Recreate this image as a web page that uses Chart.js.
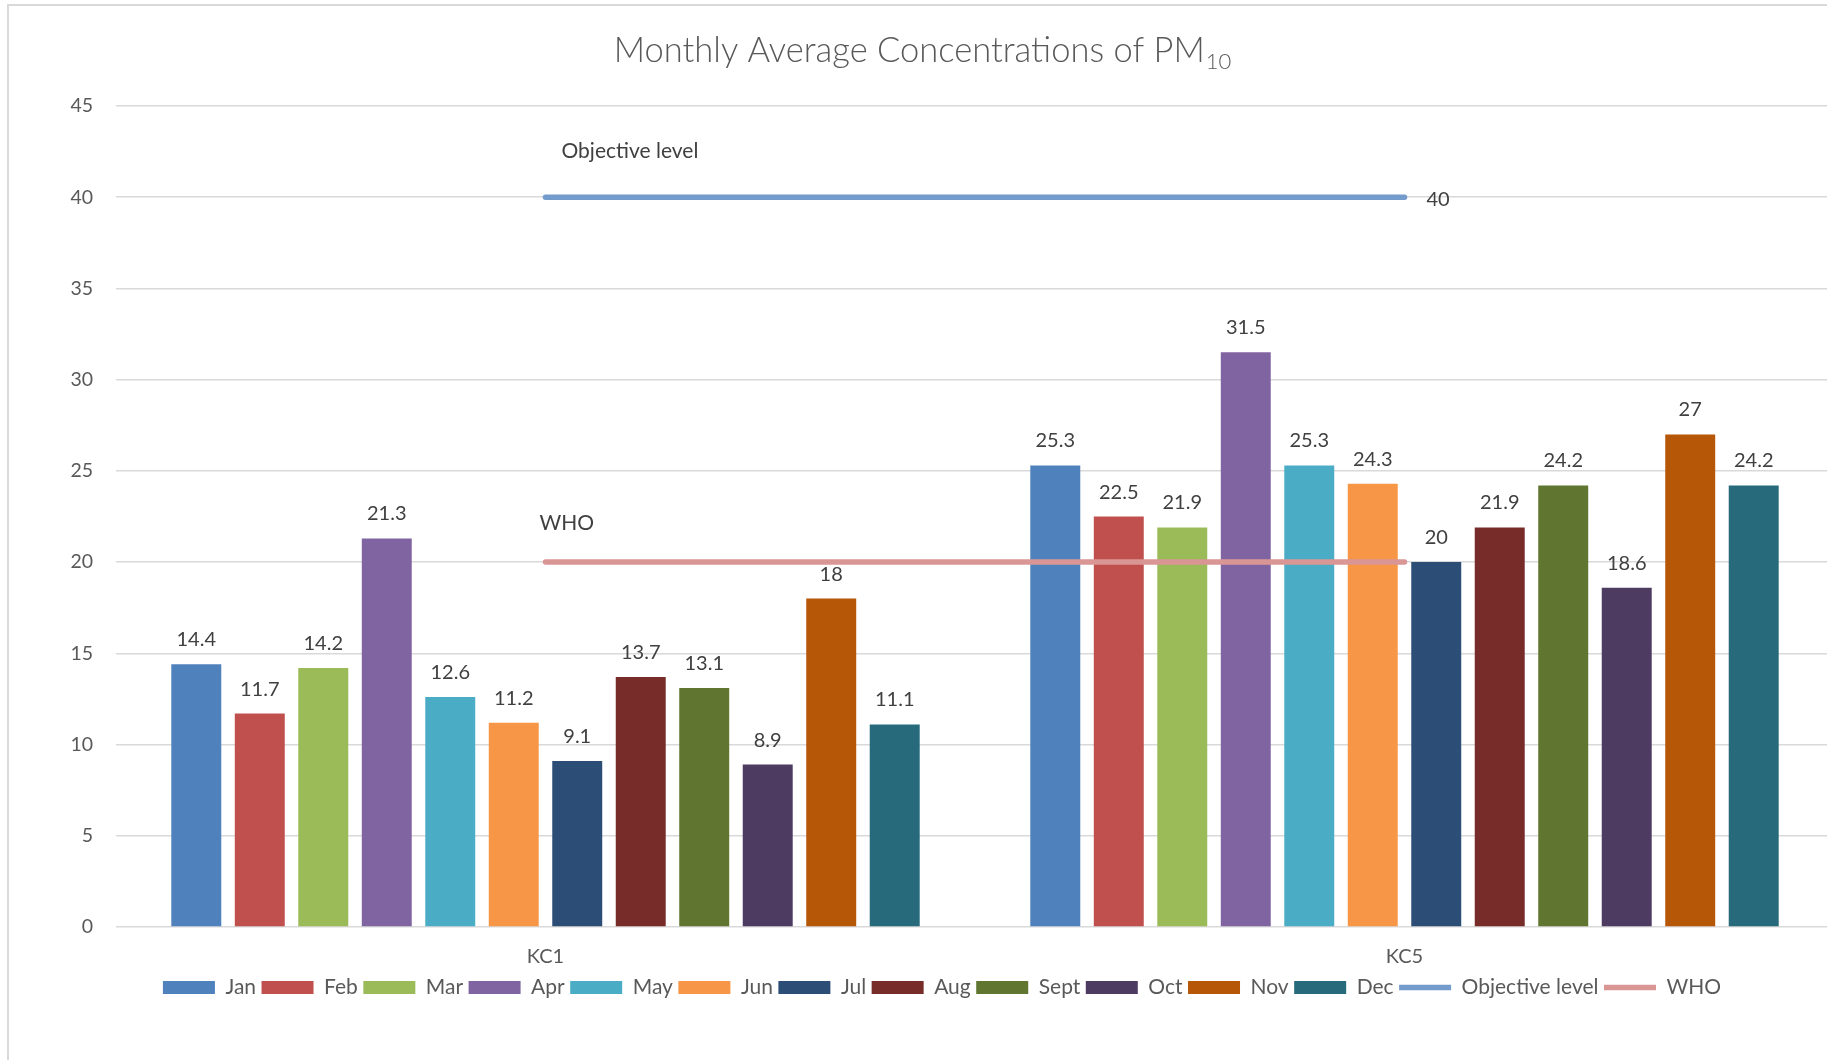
<!DOCTYPE html>
<html>
<head>
<meta charset="utf-8">
<title>Monthly Average Concentrations of PM10</title>
<script src="https://cdn.jsdelivr.net/npm/chart.js@4.4.1/dist/chart.umd.min.js"></script>
<style>
   html, body { margin: 0; padding: 0; background: #fff; overflow: hidden; }
   #frame {
      position: absolute; left: 7px; top: 4px; width: 3000px; height: 3000px;
      border: 2px solid #d9d9d9;
   }
   #wrap { position: absolute; left: 0; top: 0; width: 1850px; height: 1060px; }
</style>
</head>
<body>
<div id="frame"></div>
<div id="wrap"><canvas id="pmChart"></canvas></div>
<script>
const sites = ['KC1', 'KC5'];
const months = ['Jan', 'Feb', 'Mar', 'Apr', 'May', 'Jun', 'Jul', 'Aug', 'Sept', 'Oct', 'Nov', 'Dec'];
const kc1Values = [14.4, 11.7, 14.2, 21.3, 12.6, 11.2, 9.1, 13.7, 13.1, 8.9, 18, 11.1];
const kc5Values = [25.3, 22.5, 21.9, 31.5, 25.3, 24.3, 20, 21.9, 24.2, 18.6, 27, 24.2];
const objectiveLevel = [40, 40];
const whoLevel = [20, 20];

const barColors = [
   '#4f81bd', '#c0504d', '#9bbb59', '#8064a2', '#4bacc6', '#f79646',
   '#2c4d75', '#772c2a', '#5f7530', '#4d3b62', '#b65708', '#276a7c'
];
const FONT = 'Lato, "Open Sans", sans-serif';

// title with a real subscript, Excel style
const titlePlugin = {
   id: 'pmTitle',
   afterDraw(chart) {
      const ctx = chart.ctx;
      const main = 'Monthly Average Concentrations of PM';
      const sub = '10';
      ctx.save();
      ctx.fillStyle = '#595959';
      ctx.textBaseline = 'alphabetic';
      ctx.font = '300 34.5px ' + FONT;
      const w1 = ctx.measureText(main).width;
      ctx.font = '300 22px ' + FONT;
      const w2 = ctx.measureText(sub).width;
      const x0 = 922 - (w1 + w2) / 2;
      ctx.font = '300 34.5px ' + FONT;
      ctx.fillText(main, x0, 62);
      ctx.font = '300 22px ' + FONT;
      ctx.fillText(sub, x0 + w1 + 1, 69);
      ctx.restore();
   }
};

// value labels above the bars, series name / value labels on the lines
const labelPlugin = {
   id: 'pmLabels',
   afterDatasetsDraw(chart) {
      const ctx = chart.ctx;
      ctx.save();
      ctx.fillStyle = '#404040';
      ctx.font = '20px ' + FONT;
      chart.data.datasets.forEach((ds, i) => {
         if (ds.type === 'line') return;
         const meta = chart.getDatasetMeta(i);
         meta.data.forEach((bar, j) => {
            ctx.textAlign = 'center';
            ctx.textBaseline = 'alphabetic';
            ctx.fillText(String(ds.data[j]), bar.x, bar.y - 18);
         });
      });
      // line labels
      const objMeta = chart.getDatasetMeta(12);
      const whoMeta = chart.getDatasetMeta(13);
      ctx.textAlign = 'left';
      ctx.textBaseline = 'middle';
      const o0 = objMeta.data[0], o1 = objMeta.data[1];
      ctx.fillText(String(chart.data.datasets[12].data[1]), o1.x + 22, o1.y + 2);
      ctx.font = '21px ' + FONT;
      ctx.fillText(chart.data.datasets[12].label, o0.x + 16, o0.y - 46);
      const w0 = whoMeta.data[0];
      ctx.fillText(chart.data.datasets[13].label, w0.x - 6, w0.y - 39);
      ctx.restore();
   }
};

const datasets = months.map((m, i) => ({
   label: m,
   data: [kc1Values[i], kc5Values[i]],
   backgroundColor: barColors[i],
   pointStyle: 'rect',
   borderWidth: 0,
   categoryPercentage: 0.887,
   barPercentage: 0.787,
   order: 2
}));
datasets.push({
   type: 'line',
   label: 'Objective level',
   data: objectiveLevel,
   borderColor: '#739bcb',
   backgroundColor: '#739bcb',
   borderWidth: 5.5,
   borderCapStyle: 'round',
   pointRadius: 0,
   pointStyle: 'line',
   order: 1
});
datasets.push({
   type: 'line',
   label: 'WHO',
   data: whoLevel,
   borderColor: '#d99694',
   backgroundColor: '#d99694',
   borderWidth: 5.5,
   borderCapStyle: 'round',
   pointRadius: 0,
   pointStyle: 'line',
   order: 1
});

new Chart(document.getElementById('pmChart').getContext('2d'), {
   type: 'bar',
   data: { labels: sites, datasets: datasets },
   plugins: [titlePlugin, labelPlugin],
   options: {
      responsive: true,
      maintainAspectRatio: false,
      animation: false,
      layout: { padding: { top: 106, left: 50, right: 16, bottom: 52 } },
      plugins: {
         title: { display: false },
         tooltip: { enabled: false },
         legend: {
            position: 'bottom',
            labels: {
               usePointStyle: true,
               pointStyleWidth: 52,
               boxWidth: 52,
               boxHeight: 13,
               padding: 5.5,
               color: '#595959',
               font: { family: FONT, size: 21 },
               sort: (a, b) => a.datasetIndex - b.datasetIndex
            }
         }
      },
      scales: {
         x: {
            grid: { display: false },
            border: { display: false },
            ticks: { color: '#595959', font: { family: FONT, size: 20 }, padding: 10 },
            afterFit(scale) { scale.height = 44.5; }
         },
         y: {
            min: 0,
            max: 45,
            ticks: { stepSize: 5, color: '#595959', font: { family: FONT, size: 19.5 }, padding: 23 },
            grid: { color: '#d9d9d9', lineWidth: 1.5, drawTicks: false },
            border: { display: false },
            afterFit(scale) { scale.width = 66; }
         }
      }
   }
});
</script>
</body>
</html>
